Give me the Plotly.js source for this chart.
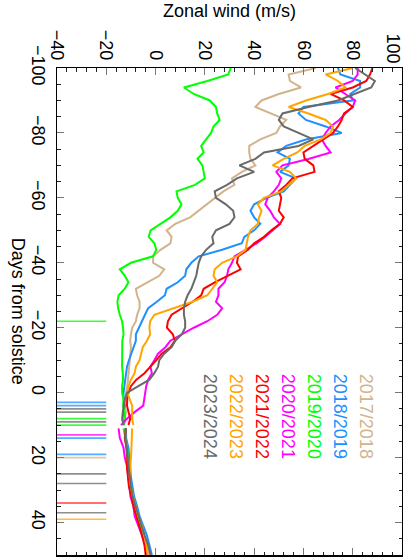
<!DOCTYPE html>
<html>
<head>
<meta charset="utf-8">
<script src="https://cdn.plot.ly/plotly-3.0.1.min.js"></script>
<style>
html,body{margin:0;padding:0;background:#fff;}
#chart{width:403px;height:557px;}
</style>
</head>
<body>
<div id="chart"></div>
<script>
// Days from solstice (before the data gap, and after it)
const daysA = [-100,-98,-96,-94,-92,-90,-88,-86,-84,-82,-80,-78,-76,-74,-72,-70,-68,-66,-64,-62,
  -60,-58,-56,-54,-52,-50,-48,-46,-44,-42,-40,-38,-36,-34,-32,-30,-28,-26,-24,-22,
  -20,-18,-16,-14,-12,-10,-8,-6,-4,-2,0,2,4,6,8,10];
const daysB = [11,14,17,20,23,26,29,32,35,38,41,44,47,50];

const seasons = ['2017/2018','2018/2019','2019/2020','2020/2021','2021/2022','2022/2023','2023/2024'];
const seasonColors = ['#D2B48C','#1E90FF','#00FF00','#FF00FF','#FF0000','#FFA500','#696969'];

// Zonal wind (m/s)
const wind2017A = [65,54,54.5,59,50,43,40.5,47,53,50.5,49,42.5,38,38,38.5,40.5,35,31,32,27.5,
  24,21,17.5,14,8,4.5,6.5,6,2,-1,-1,3.5,1.5,-3.5,-8,-7.5,-6.5,-6.5,-7.5,-8,
  -9.5,-10,-10.3,-10,-10.2,-10.5,-10.6,-11,-11.2,-11.5,-12,-12,-12.5,-12,-12.5,-13];
const wind2018A = [74,75,83,83,79,80,60,58,61,69,75.5,61,53,49.5,54.5,54,50.5,57,54.5,52,
  45,40,38.5,40,42.5,40,36,35,27,17.5,14.5,12.5,12,9,4.5,3.8,0.5,-3,-4.3,-5.5,
  -7,-8,-8,-9,-10,-10.8,-11.6,-12,-12.3,-12.6,-13,-13,-12.5,-13,-13.5,-13];
const wind2019A = [30.5,29.5,21,11.5,15.5,22,24.5,25,26,23.5,22.5,20.5,18.5,19.5,17,19,19.5,20,16,8.5,
  9,10.5,9,6,2,-2,-2.8,-0.5,0.3,-1,-10,-14.5,-12.5,-11,-12.5,-15,-15.5,-15.2,-14.5,-13.6,
  -13.2,-13,-13.5,-13.6,-13.4,-13.6,-13.6,-13.3,-13.2,-13.6,-13.6,-13,-13.2,-12.6,-12.3,-12.8];
const wind2020A = [82,82,80,73,77,81,80,77,74.5,71,69,67.5,69,71,62,51.5,49,51,50,48,
  45.5,44.5,46.5,48,50.5,47.5,44.5,41,36.5,32,31,29.5,29,28,25.5,25.5,24.5,27,25,21,
  15.5,10.5,6,4,1,-0.5,-2.1,-1.5,-3,-3.8,-4.2,-4.5,-5,-8.5,-11.6,-14];
const wind2021A = [88,87,85.5,80,71,76.5,80,76.5,75.5,74,72,68,63.5,60,60.5,64,64.5,55.5,53,50,
  51,50.5,50,52,50.5,47,44,40,37.5,33.5,33,34.5,29,24,19.5,18.5,15,10.5,6.5,5,
  4.6,7,7.8,6,2.5,0.3,-2.2,-4.5,-7.8,-10,-11,-11.5,-11.6,-11,-10.3,-11];
const wind2022A = [80,69,74,77,70,61,54,62,69,72,71,67,60.5,57.5,52,47.5,54.5,57,54,51,
  44,41.5,43,42,41.5,38.5,37.5,37,36.5,33,27,24,23.5,25,23,21,15,7.5,-0.5,-2.2,
  -2.5,-2.2,-3.5,-5.2,-6,-6.5,-8,-8.5,-10,-11,-11.5,-10.5,-9.5,-9.5,-9.5,-9];
const wind2023A = [81,85,89,87.5,81,74,62,51.5,50,52,58,64,58,44,40.5,34,40,33,29,24,
  24.5,28.5,31.5,32,30,24.5,23,23.5,20.5,18.5,17.5,17,16.5,15.5,14.5,13,12,11.5,11.5,12,
  12,10.7,8,6.5,3.5,1.5,1,-0.5,-2.5,-7,-11.5,-12.5,-13,-13.3,-13.5,-13];

const wind2017B = [-12,-11.8,-11.8,-11,-10.5,-10.5,-10.3,-9.3,-8,-7.3,-6.3,-4.8,-3.5,-2.5];
const wind2018B = [-12.5,-12,-11,-10.8,-10.3,-10,-9.5,-8.7,-7.5,-6.5,-5,-3.5,-2.5,-1.5];
const wind2019B = [-13,-12.3,-11.5,-11.3,-10.8,-10.7,-10,-9.5,-8.5,-7.6,-6,-5,-4.2,-3.7];
const wind2020B = [-15,-14.5,-13,-12.5,-11.5,-11.2,-10.6,-10.2,-9,-8.5,-7,-5.5,-4,-3.5];
const wind2021B = [-12,-12.5,-11.8,-11.5,-11.6,-11.2,-10.8,-9.8,-9,-7.8,-6.5,-5.5,-4.5,-4];
const wind2022B = [-9.5,-9.5,-9.8,-10,-10.3,-10.5,-10,-9.2,-8,-7,-5.5,-4.5,-3.7,-3.2];
const wind2023B = [-12,-12.3,-11.8,-11.4,-11,-10.5,-10,-9.3,-8.2,-7,-5.7,-4.4,-3,-2];

// Event markers (day, season index), drawn between these wind values
const eventDays =   [-22, 3, 4, 5, 6, 8, 9, 10, 13, 14, 19, 20, 25, 28, 34, 37, 39];
const eventSeason = [  2, 1, 1, 6, 6, 2, 6,  2,  3,  1,  1,  0,  6,  6,  4,  6,  5];
const eventWind = [-40, -20];

const windA = [wind2017A, wind2018A, wind2019A, wind2020A, wind2021A, wind2022A, wind2023A];
const windB = [wind2017B, wind2018B, wind2019B, wind2020B, wind2021B, wind2022B, wind2023B];

const traces = [];
eventDays.forEach(function(d, k){
  traces.push({
    type: 'scatter', mode: 'lines',
    x: eventWind, y: [d, d],
    line: {color: seasonColors[eventSeason[k]], width: 1.6},
    opacity: 0.75, hoverinfo: 'skip', showlegend: false
  });
});
seasons.forEach(function(s, i){
  traces.push({
    type: 'scatter', mode: 'lines', name: s,
    x: windA[i].concat([null], windB[i]),
    y: daysA.concat([null], daysB),
    connectgaps: false,
    line: {color: seasonColors[i], width: 2},
    hoverinfo: 'skip', showlegend: false
  });
});

const FONT = 'Liberation Sans, Arial, Helvetica, sans-serif';
const L = 57, R = 1, T = 68, B = 2, W = 403, H = 557;
const pw = W - L - R, ph = H - T - B;

const annotations = [{
  text: 'Days from solstice', textangle: 90, showarrow: false,
  xref: 'paper', yref: 'paper', x: (18.7 - L) / pw, y: 0.5,
  xanchor: 'center', yanchor: 'middle',
  font: {family: FONT, size: 18, color: '#000'}
}, {
  // last wind tick label, kept just inside the right edge
  text: '100', textangle: 90, showarrow: false,
  xref: 'paper', yref: 'paper', x: (392 - L) / pw, y: (H - B - 48.5) / ph,
  xanchor: 'center', yanchor: 'middle',
  font: {family: FONT, size: 18, color: '#000'}
}];
const legendX = [366, 340, 314, 288, 262, 236, 210];
seasons.forEach(function(s, i){
  annotations.push({
    text: s, textangle: 90, showarrow: false,
    xref: 'paper', yref: 'paper',
    x: (legendX[i] - L) / pw, y: (H - B - 415.8) / ph,
    xanchor: 'center', yanchor: 'middle',
    font: {family: FONT, size: 18, color: seasonColors[i]}
  });
});

const axisCommon = {
  showgrid: false, zeroline: false,
  showline: true, mirror: 'ticks', linecolor: '#000', linewidth: 1.5,
  ticks: 'inside', ticklen: 7, tickwidth: 1, tickcolor: '#777',
  tickangle: 90, tickfont: {family: FONT, size: 18, color: '#000'},
  dtick: 20, tick0: 0
};

const layout = {
  width: W, height: H,
  margin: {l: L, r: R, t: T, b: B, pad: 0},
  paper_bgcolor: '#fff', plot_bgcolor: '#fff',
  showlegend: false,
  font: {family: FONT, size: 18, color: '#000'},
  xaxis: Object.assign({}, axisCommon, {
    range: [-40, 99.99], side: 'top',
    minor: {ticks: 'inside', ticklen: 3.5, dtick: 4, tickcolor: '#222', tickwidth: 1, showgrid: false},
    title: {text: 'Zonal wind (m/s)', font: {family: FONT, size: 18, color: '#000'}, standoff: 7}
  }),
  yaxis: Object.assign({}, axisCommon, {
    range: [50, -100], autorange: false, ticklabelstandoff: 2,
    minor: {ticks: 'inside', ticklen: 3.5, dtick: 5, tickcolor: '#222', tickwidth: 1, showgrid: false}
  }),
  annotations: annotations
};

Plotly.newPlot('chart', traces, layout, {staticPlot: true, displayModeBar: false});
</script>
</body>
</html>
